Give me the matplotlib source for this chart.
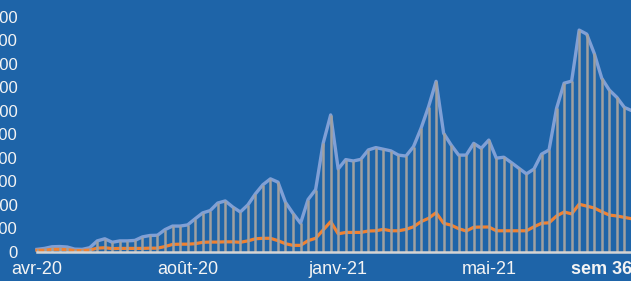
import numpy as np
import matplotlib
matplotlib.use("Agg")
from matplotlib import pyplot as plt

# weekly values (unit = tick step of 100)
total = [10, 14, 21, 22, 20, 11, 10, 17, 46, 55,
         40, 46, 46, 48, 63, 69, 70, 94, 109, 109,
         114, 140, 165, 175, 207, 216, 190, 169, 199, 246,
         285, 310, 296, 210, 163, 121, 222, 264, 461, 582,
         352, 392, 386, 393, 433, 443, 436, 429, 411, 407,
         447, 525, 617, 725, 504, 454, 411, 411, 461, 440,
         475, 398, 402, 379, 355, 331, 352, 415, 433, 610,
         717, 726, 943, 926, 844, 738, 688, 657, 614, 600]
part = [6, 6, 10, 10, 9, 5, 5, 7, 15, 17,
        13, 14, 14, 14, 14, 15, 15, 22, 31, 32,
        32, 34, 40, 41, 41, 42, 42, 40, 46, 55,
        57, 57, 47, 34, 27, 27, 47, 57, 92, 128,
        76, 82, 82, 82, 88, 89, 95, 89, 89, 95,
        106, 128, 142, 166, 121, 113, 98, 88, 104, 105,
        105, 89, 89, 89, 89, 89, 106, 121, 123, 152,
        169, 161, 202, 194, 186, 170, 156, 152, 146, 140]
tick_pos = [0, 20, 40, 60, 75]
tick_lab = ["avr-20", "août-20", "janv-21", "mai-21", "sem 36"]
y_ticks = [0, 100, 200, 300, 400, 500, 600, 700, 800, 900, 1000]
y_labels = ["0", "100", "200", "300", "400", "500", "600", "700", "800", "900", "1 000"]

bg = "#1e64a8"
plt.rcParams["font.family"] = ["Liberation Sans", "DejaVu Sans"]

fig = plt.figure(figsize=(6.31, 2.81), dpi=100, facecolor=bg)
W, H = 631, 281
x0 = 37
step = 7.53
right_idx = (W - x0) / step
ax = fig.add_axes([x0 / W, (H - 251.7) / H, (W - x0) / W, 251.7 / H])
ax.set_facecolor(bg)

x = np.arange(len(total))
ax.plot(x, total, color="#80a0d6", lw=2.4, zorder=2, clip_on=False)
ax.plot(x, part, color="#f08232", lw=2.3, zorder=2, clip_on=False)
ax.vlines(x, 0, total, colors="#a0a0a0", lw=1.8, zorder=3)
ax.axhline(0, color="#d4d4d4", lw=1.8, zorder=4, clip_on=False)

ax.set_xlim(0, right_idx)
ax.set_ylim(0, 251.7 / 0.235)
ax.set_yticks(y_ticks)
ax.set_yticklabels(y_labels)
ax.set_xticks(tick_pos)
ax.set_xticklabels(tick_lab)
ax.tick_params(axis="y", length=0, pad=14, labelsize=12, labelcolor="#f4f4f4")
ax.tick_params(axis="x", length=0, pad=7, labelsize=13, labelcolor="#f4f4f4")
ax.get_xticklabels()[-1].set_fontweight("bold")
for s in ax.spines.values():
    s.set_visible(False)

fig.savefig("out.png", dpi=100, facecolor=bg)
